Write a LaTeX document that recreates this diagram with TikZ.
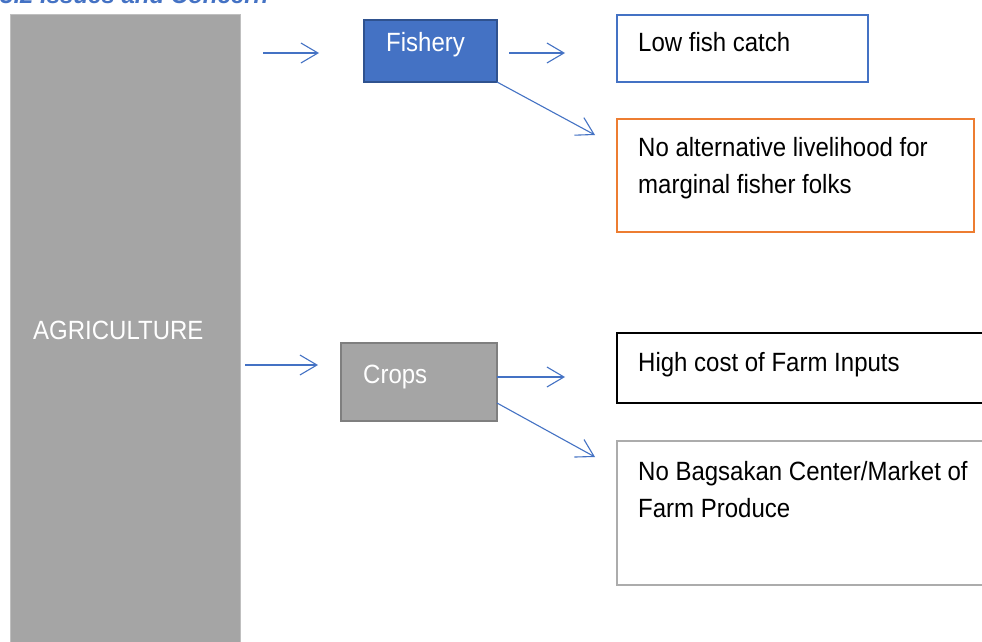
\documentclass[tikz,border=0pt]{standalone}
\usepackage{fontspec}
\setmainfont{Liberation Sans}
\usepackage{graphicx}
\usetikzlibrary{arrows.meta}
\definecolor{mblue}{HTML}{4472C4}
\definecolor{dblue}{HTML}{2F528F}
\definecolor{morange}{HTML}{ED7D31}
\definecolor{mgray}{HTML}{A5A5A5}
\definecolor{dgray}{HTML}{7F7F7F}
\definecolor{lgray}{HTML}{BFBFBF}
\newcommand{\tallline}[1]{\scalebox{1}[1.1]{#1}}
\newcommand{\tallpar}[1]{\scalebox{1}[1.1]{\begin{tabular}[b]{@{}l@{}}#1\end{tabular}}}
\begin{document}
\begin{tikzpicture}[x=1pt,y=-1pt,
  txt/.style={inner sep=0pt,anchor=base west,align=left,font=\fontsize{24}{33.6}\selectfont},
  wtxt/.style={txt,text=white},
  arr/.style={draw=mblue,line width=1.1pt,-{Straight Barb[length=17pt,width=20pt,line width=1.1pt]}}
]
\useasboundingbox (0,0) rectangle (982,642);
\clip (0,0) rectangle (982,642);
\fill[white] (0,0) rectangle (982,642);
% title (cut off at the top)
\node[txt,text=mblue,font=\fontsize{24}{28}\selectfont\bfseries\itshape] (title) at (0,3.5) {3.2 Issues and Concern};
% boxes
\draw[fill=mgray,draw=lgray,line width=1pt] (10,15) rectangle (240,680);
\draw[fill=mblue,draw=dblue,line width=2pt] (364,20) rectangle (497,82);
\coordinate (fishSE) at (497,82);
\draw[draw=mblue,line width=1.5pt] (617,15) rectangle (868,82);
\draw[draw=morange,line width=2pt] (617,119) rectangle (974,232);
\draw[fill=mgray,draw=dgray,line width=2pt] (341,343) rectangle (497,421);
\draw[draw=black,line width=2.5pt] (617,333) rectangle (1000,403);
\draw[draw=lgray!90!black,line width=2pt] (617,441) rectangle (1000,585);
% texts
\node[wtxt] (agri) at (33,339) {\tallline{AGRICULTURE}};
\node[wtxt] (fish) at (386,52) {\tallline{Fishery}};
\node[wtxt] (crops) at (363,383) {\tallline{Crops}};
\node[txt] (low) at (638,52) {\tallline{Low fish catch}};
\node[txt] (alt) at (638,193) {\tallpar{No alternative livelihood for\\marginal fisher folks}};
\node[txt] (high) at (638,371) {\tallline{High cost of Farm Inputs}};
\node[txt] (bag) at (638,517) {\tallpar{No Bagsakan Center/Market of\\Farm Produce}};
% arrow end points
\coordinate (a1s) at (263,53); \coordinate (a1e) at (319,53);
\coordinate (a2s) at (509,53); \coordinate (a2e) at (565,53);
\coordinate (a3e) at (595,135);
\coordinate (a4s) at (245,365); \coordinate (a4e) at (318,365);
\coordinate (a5s) at (497,377); \coordinate (a5e) at (565,377);
\coordinate (a6s) at (497,403); \coordinate (a6e) at (595,457);
\draw[arr] (a1s) -- (a1e);
\draw[arr] (a2s) -- (a2e);
\draw[arr] (fishSE) -- (a3e);
\draw[arr] (a4s) -- (a4e);
\draw[arr] (a5s) -- (a5e);
\draw[arr] (a6s) -- (a6e);
\end{tikzpicture}
\end{document}
